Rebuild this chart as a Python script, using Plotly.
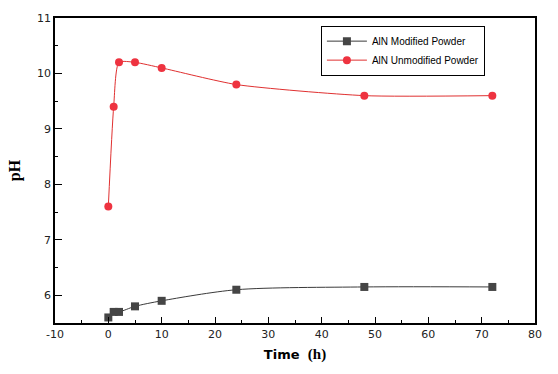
import plotly.graph_objects as go

time_h = [0, 1, 2, 5, 10, 24, 48, 72]
ph_modified = [5.6, 5.7, 5.7, 5.8, 5.9, 6.1, 6.15, 6.15]
ph_unmodified = [7.6, 9.4, 10.2, 10.2, 10.1, 9.8, 9.6, 9.6]
x_ticks = [-10, 0, 10, 20, 30, 40, 50, 60, 70, 80]
y_ticks = [6, 7, 8, 9, 10, 11]

fig = go.Figure()
fig.add_trace(go.Scatter(
    x=time_h, y=ph_modified, name="AlN Modified Powder",
    mode="lines+markers", legendgroup="a",
    line=dict(color="#3a3a3a", width=1, shape="spline", smoothing=0.8),
    marker=dict(symbol="square", size=8, color="#454545"),
))
fig.add_trace(go.Scatter(
    x=time_h, y=ph_unmodified, name="AlN Unmodified Powder",
    mode="lines+markers", legendgroup="b",
    line=dict(color="#e03030", width=1, shape="spline", smoothing=0.6),
    marker=dict(symbol="circle", size=8, color="#ee3340"),
))

fig.update_layout(
    width=558, height=374,
    margin=dict(l=55, r=23, t=18, b=51),
    paper_bgcolor="white", plot_bgcolor="white",
    font=dict(family="DejaVu Sans", size=11, color="black"),
    showlegend=True,
    legend=dict(
        x=0.554, y=0.975, xanchor="left", yanchor="top",
        bordercolor="black", borderwidth=1, bgcolor="white",
        font=dict(family="Liberation Sans", size=10, color="black"),
        itemwidth=40, traceorder="grouped", tracegroupgap=0,
    ),
    xaxis=dict(
        range=[-10, 80], tickvals=x_ticks, ticktext=[str(v) for v in x_ticks],
        ticks="inside", ticklen=6, tickwidth=1, tickcolor="black",
        minor=dict(dtick=5, ticks="inside", ticklen=3, tickcolor="black"),
        showline=True, linecolor="black", linewidth=1.5, mirror=True,
        showgrid=False, zeroline=False,
        tickfont=dict(family="DejaVu Sans", size=11, color="#222"),
        title=dict(text="<b>Time</b>  <b><span style='font-family:Liberation Serif;font-size:15px'>(h)</span></b>",
                   font=dict(family="DejaVu Sans", size=13, color="black"), standoff=10),
    ),
    yaxis=dict(
        range=[5.5, 11], tickvals=y_ticks, ticktext=[str(v) for v in y_ticks],
        ticks="inside", ticklen=7, tickwidth=1, tickcolor="black",
        minor=dict(dtick=0.5, ticks="inside", ticklen=3, tickcolor="black"),
        showline=True, linecolor="black", linewidth=1.5, mirror=True,
        showgrid=False, zeroline=False,
        tickfont=dict(family="DejaVu Sans", size=11, color="#222"),
        title=dict(text="<b>pH</b>", font=dict(family="Liberation Serif", size=16, color="black"), standoff=12),
    ),
)

fig.write_html("out.html", config={"displayModeBar": False},
               post_script="document.body.style.margin='0';document.body.style.padding='0';")
